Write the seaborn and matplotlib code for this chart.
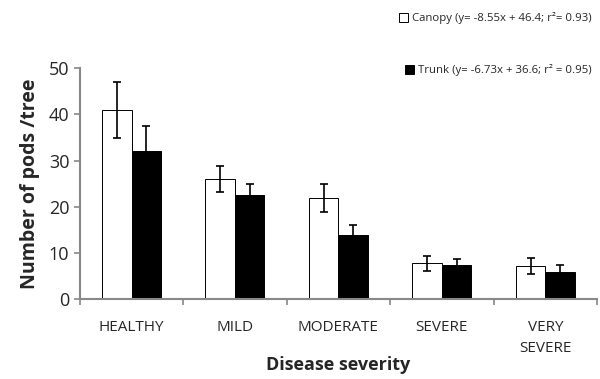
import numpy as np
import pandas as pd
import matplotlib
matplotlib.use("Agg")
import matplotlib.pyplot as plt
import seaborn as sns

# data
severity = ["HEALTHY", "MILD", "MODERATE", "SEVERE", "VERY\nSEVERE"]
canopy = [41.0, 26.0, 22.0, 7.8, 7.3]
canopy_err = [6.0, 2.8, 3.0, 1.6, 1.7]
trunk = [32.0, 22.5, 14.0, 7.5, 6.0]
trunk_err = [5.4, 2.5, 2.0, 1.3, 1.4]

canopy_lab = "Canopy (y= -8.55x + 46.4; r²= 0.93)"
trunk_lab = "Trunk (y= -6.73x + 36.6; r² = 0.95)"

df = pd.DataFrame({
    "severity": severity * 2,
    "pods": canopy + trunk,
    "part": ["Canopy"] * 5 + ["Trunk"] * 5,
})

sns.set_style("white")
plt.rcParams["font.family"] = ["Open Sans", "DejaVu Sans"]

fig = plt.figure(figsize=(6, 3.79), dpi=100)
ax = fig.add_axes([0.133, 0.21, 0.862, 0.61])

sns.barplot(data=df, x="severity", y="pods", hue="part",
            palette={"Canopy": "white", "Trunk": "black"},
            edgecolor="black", linewidth=0.7, width=0.57,
            errorbar=None, legend=False, ax=ax)

# error bars on each bar
for cont, vals, errs in zip(ax.containers, [canopy, trunk], [canopy_err, trunk_err]):
    xs = [p.get_x() + p.get_width() / 2 for p in cont.patches]
    ax.errorbar(xs, vals, yerr=errs, fmt="none", ecolor="black",
                elinewidth=1.2, capsize=3, capthick=1.2)

ax.set_ylim(0, 50)
ax.set_yticks([0, 10, 20, 30, 40, 50])
ax.set_xlim(-0.5, 4.5)

# category ticks sit between groups (excel style)
ax.set_xticks(np.arange(-0.5, 5, 1))
ax.set_xticklabels([])
ax.set_xticks(np.arange(5), labels=severity, minor=True)
ax.tick_params(axis="x", which="major", length=4, width=1.2, color="#888888", direction="out", bottom=True)
ax.tick_params(axis="x", which="minor", length=0, labelsize=11, pad=15)
ax.tick_params(axis="y", length=4, width=1.2, color="#888888", direction="out", left=True, labelsize=13)
for lab in ax.get_xticklabels(minor=True):
    lab.set_linespacing(1.55)

for s in ["top", "right"]:
    ax.spines[s].set_visible(False)
for s in ["left", "bottom"]:
    ax.spines[s].set_color("#888888")
    ax.spines[s].set_linewidth(1.5)

ax.set_xlabel("Disease severity", fontsize=13, fontweight="bold")
ax.xaxis.set_label_coords(0.5, -0.245)
ax.set_ylabel("Number of pods /tree", fontsize=14, fontweight="bold", labelpad=6)

h_c = ax.containers[0].patches[0]
h_t = ax.containers[1].patches[0]
leg1 = fig.legend([h_c], [canopy_lab], loc="center right", bbox_to_anchor=(0.995, 0.952),
                  frameon=False, fontsize=8.2, handlelength=0.8, handleheight=0.8,
                  handletextpad=0.3, borderpad=0)
leg2 = fig.legend([h_t], [trunk_lab], loc="center right", bbox_to_anchor=(0.995, 0.815),
                  frameon=False, fontsize=8.2, handlelength=0.8, handleheight=0.8,
                  handletextpad=0.3, borderpad=0)

fig.savefig("out.png", dpi=100)
